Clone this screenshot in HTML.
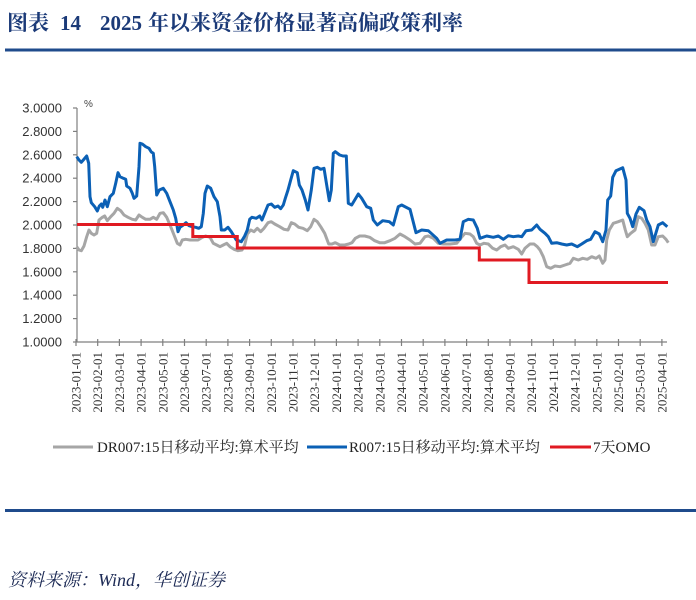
<!DOCTYPE html>
<html>
<head>
<meta charset="utf-8">
<style>
html,body{margin:0;padding:0;background:#fff;}
svg{display:block;}
</style>
</head>
<body>
<svg width="696" height="600" viewBox="0 0 696 600" xmlns="http://www.w3.org/2000/svg">
<rect width="696" height="600" fill="#fff"/>
<!-- Title -->
<g font-family="'Liberation Serif','Noto Serif CJK SC',serif" font-weight="bold" font-size="21" fill="#1b3a78">
<text x="7" y="30">图表</text>
<text x="60" y="30">14</text>
<text x="100" y="30">2025</text>
<text x="148" y="30">年以来资金价格显著高偏政策利率</text>
</g>
<rect x="5" y="48.5" width="691" height="3" fill="#1f4b8c"/>

<!-- Y axis -->
<g stroke="#7f7f7f" stroke-width="1.2" fill="none">
<line x1="77" y1="108" x2="77" y2="342"/>
<line x1="77" y1="342" x2="667" y2="342"/>
<line x1="73" y1="108" x2="77" y2="108"/>
<line x1="73" y1="131.4" x2="77" y2="131.4"/>
<line x1="73" y1="154.8" x2="77" y2="154.8"/>
<line x1="73" y1="178.2" x2="77" y2="178.2"/>
<line x1="73" y1="201.6" x2="77" y2="201.6"/>
<line x1="73" y1="225" x2="77" y2="225"/>
<line x1="73" y1="248.4" x2="77" y2="248.4"/>
<line x1="73" y1="271.8" x2="77" y2="271.8"/>
<line x1="73" y1="295.2" x2="77" y2="295.2"/>
<line x1="73" y1="318.6" x2="77" y2="318.6"/>
<line x1="73" y1="342" x2="77" y2="342"/>
</g>
<g font-family="'Liberation Sans',sans-serif" font-size="13" fill="#333" text-anchor="end">
<text x="62" y="112.5">3.0000</text>
<text x="62" y="135.9">2.8000</text>
<text x="62" y="159.3">2.6000</text>
<text x="62" y="182.7">2.4000</text>
<text x="62" y="206.1">2.2000</text>
<text x="62" y="229.5">2.0000</text>
<text x="62" y="252.9">1.8000</text>
<text x="62" y="276.3">1.6000</text>
<text x="62" y="299.7">1.4000</text>
<text x="62" y="323.1">1.2000</text>
<text x="62" y="346.5">1.0000</text>
</g>
<text x="84" y="107" font-family="'Liberation Sans',sans-serif" font-size="10" fill="#444">%</text>

<!-- X ticks -->
<g stroke="#7f7f7f" stroke-width="1.2">
<line x1="76" y1="339" x2="76" y2="346"/>
<line x1="97.7" y1="339" x2="97.7" y2="346"/>
<line x1="119.4" y1="339" x2="119.4" y2="346"/>
<line x1="141.1" y1="339" x2="141.1" y2="346"/>
<line x1="162.8" y1="339" x2="162.8" y2="346"/>
<line x1="184.5" y1="339" x2="184.5" y2="346"/>
<line x1="206.2" y1="339" x2="206.2" y2="346"/>
<line x1="227.9" y1="339" x2="227.9" y2="346"/>
<line x1="249.6" y1="339" x2="249.6" y2="346"/>
<line x1="271.3" y1="339" x2="271.3" y2="346"/>
<line x1="293" y1="339" x2="293" y2="346"/>
<line x1="314.7" y1="339" x2="314.7" y2="346"/>
<line x1="336.4" y1="339" x2="336.4" y2="346"/>
<line x1="358.1" y1="339" x2="358.1" y2="346"/>
<line x1="379.8" y1="339" x2="379.8" y2="346"/>
<line x1="401.5" y1="339" x2="401.5" y2="346"/>
<line x1="423.2" y1="339" x2="423.2" y2="346"/>
<line x1="444.9" y1="339" x2="444.9" y2="346"/>
<line x1="466.6" y1="339" x2="466.6" y2="346"/>
<line x1="488.3" y1="339" x2="488.3" y2="346"/>
<line x1="510" y1="339" x2="510" y2="346"/>
<line x1="531.7" y1="339" x2="531.7" y2="346"/>
<line x1="553.4" y1="339" x2="553.4" y2="346"/>
<line x1="575.1" y1="339" x2="575.1" y2="346"/>
<line x1="596.8" y1="339" x2="596.8" y2="346"/>
<line x1="618.5" y1="339" x2="618.5" y2="346"/>
<line x1="640.2" y1="339" x2="640.2" y2="346"/>
<line x1="661.9" y1="339" x2="661.9" y2="346"/>
</g>
<g font-family="'Liberation Serif',serif" font-size="13" fill="#333" text-anchor="end">
<text transform="translate(80.5,352) rotate(-90)">2023-01-01</text>
<text transform="translate(102.2,352) rotate(-90)">2023-02-01</text>
<text transform="translate(123.9,352) rotate(-90)">2023-03-01</text>
<text transform="translate(145.6,352) rotate(-90)">2023-04-01</text>
<text transform="translate(167.3,352) rotate(-90)">2023-05-01</text>
<text transform="translate(189,352) rotate(-90)">2023-06-01</text>
<text transform="translate(210.7,352) rotate(-90)">2023-07-01</text>
<text transform="translate(232.4,352) rotate(-90)">2023-08-01</text>
<text transform="translate(254.1,352) rotate(-90)">2023-09-01</text>
<text transform="translate(275.8,352) rotate(-90)">2023-10-01</text>
<text transform="translate(297.5,352) rotate(-90)">2023-11-01</text>
<text transform="translate(319.2,352) rotate(-90)">2023-12-01</text>
<text transform="translate(340.9,352) rotate(-90)">2024-01-01</text>
<text transform="translate(362.6,352) rotate(-90)">2024-02-01</text>
<text transform="translate(384.3,352) rotate(-90)">2024-03-01</text>
<text transform="translate(406,352) rotate(-90)">2024-04-01</text>
<text transform="translate(427.7,352) rotate(-90)">2024-05-01</text>
<text transform="translate(449.4,352) rotate(-90)">2024-06-01</text>
<text transform="translate(471.1,352) rotate(-90)">2024-07-01</text>
<text transform="translate(492.8,352) rotate(-90)">2024-08-01</text>
<text transform="translate(514.5,352) rotate(-90)">2024-09-01</text>
<text transform="translate(536.2,352) rotate(-90)">2024-10-01</text>
<text transform="translate(557.9,352) rotate(-90)">2024-11-01</text>
<text transform="translate(579.6,352) rotate(-90)">2024-12-01</text>
<text transform="translate(601.3,352) rotate(-90)">2025-01-01</text>
<text transform="translate(623,352) rotate(-90)">2025-02-01</text>
<text transform="translate(644.7,352) rotate(-90)">2025-03-01</text>
<text transform="translate(666.4,352) rotate(-90)">2025-04-01</text>
</g>

<!-- Series -->
<polyline fill="none" stroke="#a6a6a6" stroke-width="3" stroke-linejoin="round" points="76.7,246.7 79,250 81.3,250.7 84,246 86.7,236.7 89,230 91.3,233.3 94,235 96.7,233.3 99,220 102.3,217.3 104.7,216 107.3,220.7 110.7,216.7 114,213.3 117.3,208.3 120.7,210.7 124,215 128,217.3 132.3,219.3 135.7,220 139,215 142.3,217.3 145.7,219.3 150,219.3 153.3,217.3 156.7,219.3 160,213.3 163.3,212.7 166.7,217.3 170.7,226.7 174,235 177.3,243.3 180,245 182.3,240 185.7,239.3 190,240 194,240 198,240 202.3,237.3 205.7,236 210,237.3 213.3,243.3 216.7,245 220,246.7 223.3,245 226.7,243.3 230,246.7 234,249.3 238,250.7 242,250 244.7,245 247.3,234 250.7,230 254,231.7 257.3,228.3 260.7,231.7 264,228.3 268,222.7 271.3,221.7 274.7,224 279.7,226.7 284,229.3 288,230 291.3,222.7 294.7,224 298.7,227.3 303,228.3 307.3,230.7 310.7,226.7 314,219.3 317.3,221.7 320.7,226.7 324.7,233.3 328.7,244 332,244 335.3,242.7 339.7,245 344.7,245 348.7,244 352,242.7 355.3,238.3 359.7,236 364.7,236 369.7,237.3 374.7,240.7 379.7,242.7 384.7,242.7 390,240.7 395,238.3 400,234 405,236.7 410,240 415,244 420,243.3 425,236.7 428.3,236 433.3,238.3 438.3,243.3 443.3,244 450,244 456.7,243.3 460.7,238.3 465,233.3 470,234 473.3,236.7 476.7,243.3 480,245 484,243.3 488.3,244 492.7,248.3 496.7,250 500.7,246.7 505,245 508.3,248.3 513.3,246.7 518.3,249.3 521.7,254 525,248.3 530,244 534,244 537.3,246.7 540,250 543.3,256.7 546.7,266.7 550.7,268.3 555,266 560,266.7 565,265 570,263.3 573.3,258.3 578.3,260 582.7,258.3 587.3,259.3 591.7,256.7 596,258.3 599.3,256 602.7,263.3 605,260 606.7,240 609.3,230 613.3,223.3 618.3,221.7 622.7,220 625.3,230 627.3,236.7 630.7,233.3 635,230 638.3,216.7 641.7,218.3 645,223.3 648.3,230 651.7,245 655,245 658.3,236.7 662.7,236 666,239.3 668.3,242.7"/>
<polyline fill="none" stroke="#0b60b5" stroke-width="3" stroke-linejoin="round" points="76.7,156.7 79,160 81.3,162.3 83.3,160 86.7,156 88.7,163.3 90,196.7 91.3,202.7 94.7,206.7 97.3,211 99.3,206 101.3,204 102.7,207.3 105,200 107.3,206.7 110,196.7 113.3,193.3 115.7,183.3 118,172.7 120,176.7 123.3,178.3 125.7,179.3 126.7,186 130,188.3 132.3,193.3 134,198.3 136.7,196 139,166.7 140,143.3 142.3,144 145.7,146.7 149,148.3 151.3,152 153.3,153.3 154.7,166.7 156.7,195 159.3,190 163.3,188.3 166.7,193.3 170,201.7 173.3,210 175.7,218.3 178,231.7 180,227.3 183.3,225 186,222.7 189,225.7 192.3,226.7 195.7,227.3 198.7,228.3 201.3,226.7 203.3,213.3 205,193.3 207.3,186 210.7,188.3 214,196.7 217.3,201.7 220,216.7 221.3,230 224.7,230 228,227.3 231.3,231.7 236.3,240 241.3,241.7 244.7,236 247.3,230 249.7,219.3 252,217.3 256.3,218.3 259.7,216 262,220 265.3,211.7 268,205 271.3,204 274.7,207.3 278,206 280.7,208.7 283.3,205 285.3,198.3 288,190 290.7,180 293.3,170.7 297.3,172.7 299.3,185 302,190 305.3,200 308,210 311.3,190 314,168.3 317.3,167.3 320.7,169.3 324,168.3 326.7,185 329.3,200.7 331.3,190 333.3,153.3 335.3,151.7 339.7,155 343,156 346.3,156 348.3,203.3 351.7,205 358.3,194 361.7,198.3 366.7,206.7 370.7,208.3 373.3,220 377.3,225 382.7,220.7 389.3,221.7 393.3,225 398.3,206.7 401.7,205 410,209.3 416,232.7 421.7,230 428.3,230.7 436.7,238.3 440,243.3 446.7,240 455,240 460,239.3 463.3,221.7 468.3,219.3 473.3,220 477.3,228.3 480,238.3 486.7,236 493.3,237.3 498.3,236 503.3,239.3 508.3,235.7 513.3,236.7 518.3,236 521.7,236.7 526,230.7 531.7,230 536.7,225 540,229.3 545,233.3 548.3,236.7 551.7,243.3 556.7,242.7 561.7,244 566.7,245 571.7,244 577.3,246.7 581.7,244 586.7,240.7 590.7,239.3 595,231.7 599.3,234 602.7,241.7 606,230 607.7,200 610.7,196 612.7,177.3 616,170.7 622.7,167.7 626,180 627.3,213.3 630,218.3 632.7,226.7 636,214 639.3,207.3 644,210.7 646.7,220 650,226.7 653.3,241.7 658.3,225 662.7,222.7 667.3,226.7"/>
<polyline fill="none" stroke="#e01a22" stroke-width="3" points="77,224.5 192.8,224.5 192.8,236.5 237.3,236.5 237.3,248 479.3,248 479.3,260 529,260 529,282.5 668,282.5"/>

<!-- Legend -->
<line x1="53" y1="447" x2="93" y2="447" stroke="#a6a6a6" stroke-width="3"/>
<line x1="307" y1="447" x2="347" y2="447" stroke="#0b60b5" stroke-width="3"/>
<line x1="550" y1="447" x2="591" y2="447" stroke="#e01a22" stroke-width="3"/>
<g font-family="'Liberation Serif','Noto Serif CJK SC',serif" font-size="15" fill="#222">
<text x="97" y="452">DR007:15日移动平均:算术平均</text>
<text x="349" y="452">R007:15日移动平均:算术平均</text>
<text x="593" y="452">7天OMO</text>
</g>

<rect x="5" y="509" width="691" height="3" fill="#1f4b8c"/>
<text x="8" y="586" font-family="'Liberation Serif','Noto Serif CJK SC',serif" font-style="italic" font-size="18" fill="#1c2a55">资料来源：Wind，华创证券</text>
</svg>
</body>
</html>
